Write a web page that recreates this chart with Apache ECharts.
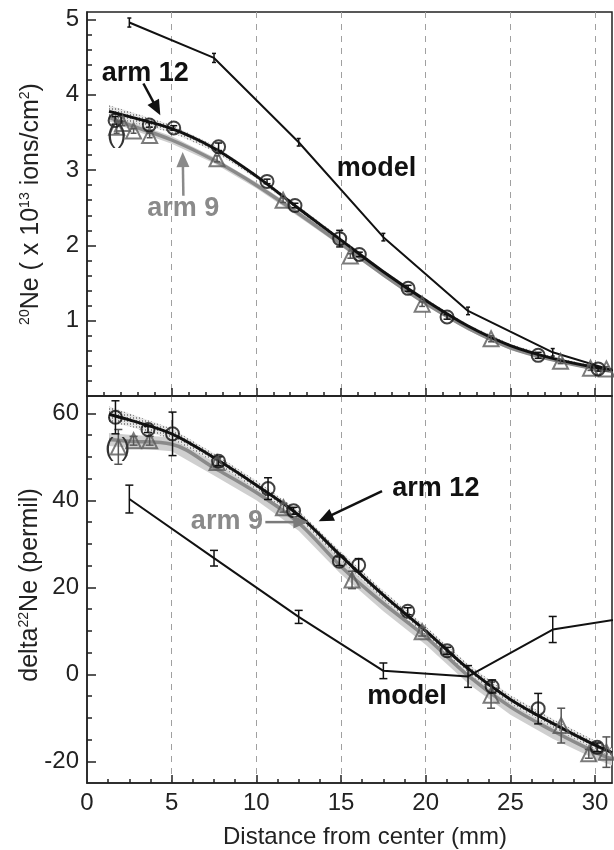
<!DOCTYPE html>
<html><head><meta charset="utf-8">
<script src="https://cdn.jsdelivr.net/npm/echarts@6/dist/echarts.min.js"></script>
<style>html,body{margin:0;padding:0;background:#fff}#c{width:614px;height:850px}</style>
</head><body><div id="c"></div>
<script>
// ---------- axis ticks ----------
const xLabelValues = [0, 5, 10, 15, 20, 25, 30];
const xMajorTicks = [5, 10, 15, 20, 25, 30];
const xMinorTopTicks = [1,2,3,4,6,7,8,9,11,12,13,14,16,17,18,19,21,22,23,24,26,27,28,29];
const xMinorBottomTicks = [1.25,2.5,3.75,6.25,7.5,8.75,11.25,12.5,13.75,16.25,17.5,18.75,21.25,22.5,23.75,26.25,27.5,28.75];
const ne20LabelValues = [1, 2, 3, 4, 5];
const ne20MinorTicks = [0.2,0.4,0.6,0.8,1.2,1.4,1.6,1.8,2.2,2.4,2.6,2.8,3.2,3.4,3.6,3.8,4.2,4.4,4.6,4.8];
const deltaLabelValues = [-20, 0, 20, 40, 60];
const deltaMinorTicks = [-15,-10,-5,5,10,15,25,30,35,45,50,55];

// ---------- fitted curves (shared x) ----------
const fitX = [1.3, 2.5, 5, 7.5, 10, 12.5, 15, 17.5, 20, 22.5, 25, 27.5, 30, 31];
const ne20Fit12 = [3.78, 3.71, 3.55, 3.29, 2.92, 2.49, 2.07, 1.65, 1.27, 0.93, 0.67, 0.50, 0.38, 0.35];
const ne20Fit9  = [3.70, 3.60, 3.40, 3.13, 2.80, 2.42, 2.02, 1.61, 1.23, 0.90, 0.64, 0.48, 0.36, 0.33];
const ne20Band12 = [0.08, 0.07, 0.05, 0.04, 0.03, 0.03, 0.03, 0.02, 0.02, 0.02, 0.02, 0.02, 0.02, 0.02];
const ne20Band9  = [0.05, 0.05, 0.05, 0.04, 0.04, 0.04, 0.03, 0.03, 0.03, 0.03, 0.03, 0.02, 0.02, 0.02];
const deltaFit12 = [59.8, 58.5, 55.3, 49.8, 43.5, 36.6, 27.2, 18.2, 10.0, 1.3, -5.8, -11.3, -16.3, -18.0];
const deltaFit9  = [54.0, 53.6, 52.9, 47.5, 41.8, 34.8, 24.8, 16.3, 8.6, -0.3, -7.5, -13.0, -17.9, -19.5];
const deltaBand12 = [1.8, 1.5, 1.2, 1.0, 1.0, 1.0, 1.0, 1.0, 1.0, 1.0, 1.0, 1.0, 1.0, 1.0];
const deltaBand9  = [1.5, 1.5, 1.6, 1.8, 1.8, 1.8, 1.8, 1.8, 1.8, 1.8, 1.8, 1.8, 1.6, 1.5];

// ---------- model ----------
const modelX = [2.5, 7.5, 12.5, 17.5, 22.5, 27.5, 32.5];
const ne20Model = [4.96, 4.49, 3.37, 2.11, 1.13, 0.58, 0.24];
const ne20ModelErr = [0.06, 0.06, 0.05, 0.05, 0.05, 0.05, 0];
const deltaModel = [40.3, 26.7, 13.2, 0.8, -0.5, 10.3, 13.4];
const deltaModelErr = [3.2, 1.8, 1.5, 1.8, 2.5, 3.0, 0];

// ---------- arm 12 (circles) ----------
const ne20Arm12X = [1.66, 3.68, 5.12, 7.77, 10.63, 12.28, 14.92, 16.08, 18.96, 21.26, 26.64, 30.18];
const ne20Arm12Y = [3.66, 3.60, 3.56, 3.31, 2.85, 2.53, 2.09, 1.88, 1.43, 1.05, 0.54, 0.36];
const ne20Arm12Err = [0.05, 0.03, 0.03, 0.05, 0.03, 0.03, 0.11, 0.03, 0.04, 0.03, 0.04, 0.03];
const deltaArm12X = [1.68, 3.6, 5.05, 7.77, 10.69, 12.2, 14.9, 16.04, 18.94, 21.26, 23.92, 26.64, 30.12];
const deltaArm12Y = [59.1, 56.3, 55.3, 49.0, 42.7, 37.6, 26.0, 25.1, 14.5, 5.4, -2.8, -7.9, -16.8];
const deltaArm12Err = [3.8, 0.7, 5.0, 1.0, 2.5, 0.8, 1.0, 1.5, 0.8, 0.8, 1.5, 3.5, 1.0];

// ---------- arm 9 (triangles) ----------
const ne20Arm9X = [1.75, 2.1, 2.75, 3.7, 7.68, 11.58, 15.55, 19.79, 23.86, 27.96, 29.73, 30.67];
const ne20Arm9Y = [3.57, 3.62, 3.52, 3.46, 3.15, 2.60, 1.86, 1.22, 0.76, 0.46, 0.37, 0.36];
const ne20Arm9Err = [0.08, 0.03, 0.03, 0.03, 0.04, 0.03, 0.03, 0.03, 0.04, 0.03, 0.03, 0.03];
const deltaArm9X = [1.85, 2.75, 3.7, 7.68, 11.6, 15.65, 19.79, 23.86, 28.0, 29.63, 30.67];
const deltaArm9Y = [52.3, 53.7, 53.7, 48.7, 38.3, 21.7, 9.8, -4.8, -11.8, -18.3, -17.9];
const deltaArm9Err = [4.0, 1.0, 1.0, 1.0, 1.0, 2.0, 1.0, 3.0, 4.0, 1.0, 3.5];

const FONT = '"Liberation Sans", Arial, Helvetica, sans-serif';
const chart = echarts.init(document.getElementById('c'));

function pts(xs, ys) { return xs.map((x, i) => [x, ys[i]]); }
function errPts(xs, ys, es) { return xs.map((x, i) => [x, ys[i], es[i]]); }

// hatch pattern for arm 12 uncertainty band
const pc = document.createElement('canvas');
pc.width = 3; pc.height = 3;
const g2 = pc.getContext('2d');
g2.fillStyle = '#e6e6e6'; g2.fillRect(0, 0, 3, 3);
g2.fillStyle = '#8a8a8a'; g2.fillRect(1, 0, 1, 2);

function bandSeries(gi, xs, center, half, fill, z) {
  return {
    type: 'custom', xAxisIndex: gi * 2, yAxisIndex: gi * 2, z: z, silent: true, clip: true,
    data: xs.map((x, i) => [x, center[i]]),
    renderItem: function (params, api) {
      if (params.dataIndex !== 0) return null;
      const up = [], lo = [];
      for (let i = 0; i < xs.length; i++) {
        up.push(api.coord([xs[i], center[i] + half[i]]));
        lo.push(api.coord([xs[i], center[i] - half[i]]));
      }
      return { type: 'polygon', shape: { points: up.concat(lo.reverse()), smooth: 0 }, style: { fill: fill } };
    }
  };
}

function errSeries(gi, data, color, cap, width, z) {
  return {
    type: 'custom', xAxisIndex: gi * 2, yAxisIndex: gi * 2, z: z, silent: true, clip: true,
    data: data,
    renderItem: function (params, api) {
      const x = api.value(0), y = api.value(1), e = api.value(2);
      if (!e) return null;
      const hi = api.coord([x, y + e]), lo = api.coord([x, y - e]);
      return {
        type: 'group', children: [
          { type: 'line', shape: { x1: hi[0], y1: hi[1], x2: lo[0], y2: lo[1] }, style: { stroke: color, lineWidth: width } },
          { type: 'line', shape: { x1: hi[0] - cap, y1: hi[1], x2: hi[0] + cap, y2: hi[1] }, style: { stroke: color, lineWidth: width } },
          { type: 'line', shape: { x1: lo[0] - cap, y1: lo[1], x2: lo[0] + cap, y2: lo[1] }, style: { stroke: color, lineWidth: width } }
        ]
      };
    }
  };
}

function lineSeries(gi, data, color, width, smooth, z) {
  return {
    type: 'line', xAxisIndex: gi * 2, yAxisIndex: gi * 2, data: data, z: z, silent: true,
    symbol: 'none', smooth: smooth, clip: true,
    lineStyle: { color: color, width: width }
  };
}

function scatterSeries(gi, data, symbol, size, color, z) {
  return {
    type: 'scatter', xAxisIndex: gi * 2, yAxisIndex: gi * 2, data: data, z: z, silent: true,
    symbol: symbol, symbolSize: size,
    itemStyle: { color: 'rgba(255,255,255,0)', borderColor: color, borderWidth: 2 }
  };
}

const axisCol = '#222';
function xMain(gi, labels) {
  return {
    type: 'value', gridIndex: gi, min: 0, max: 31, interval: 5, position: 'bottom',
    axisLine: { show: true, onZero: false, lineStyle: { color: axisCol, width: 1.5 } },
    axisTick: { show: true, inside: true, length: 8, customValues: xMajorTicks, lineStyle: { color: axisCol, width: 1.5 } },
    axisLabel: { show: labels, customValues: xLabelValues, fontSize: 24, color: axisCol, fontFamily: FONT, margin: 8 },
    splitLine: { show: true, lineStyle: { color: '#a0a0a0', type: [6, 6], width: 1 } }
  };
}
function xMinor(gi, ticks) {
  return {
    type: 'value', gridIndex: gi, min: 0, max: 31, position: 'bottom',
    axisLine: { show: false, onZero: false },
    axisTick: { show: true, inside: true, length: 4, customValues: ticks, lineStyle: { color: axisCol, width: 1.5 } },
    axisLabel: { show: false }, splitLine: { show: false }
  };
}
function yMain(gi, min, max, labels) {
  return {
    type: 'value', gridIndex: gi, min: min, max: max, position: 'left',
    axisLine: { show: true, onZero: false, lineStyle: { color: axisCol, width: 1.5 } },
    axisTick: { show: true, inside: true, length: 9, customValues: labels, lineStyle: { color: axisCol, width: 1.5 } },
    axisLabel: { show: true, customValues: labels, fontSize: 24, color: axisCol, fontFamily: FONT, margin: 8 },
    splitLine: { show: false }
  };
}
function yMinor(gi, min, max, ticks) {
  return {
    type: 'value', gridIndex: gi, min: min, max: max, position: 'left',
    axisLine: { show: false, onZero: false },
    axisTick: { show: true, inside: true, length: 5, customValues: ticks, lineStyle: { color: axisCol, width: 1.5 } },
    axisLabel: { show: false }, splitLine: { show: false }
  };
}

const option = {
  backgroundColor: '#fff',
  animation: false,
  grid: [
    { left: 87, right: 2, top: 12, height: 384, show: true, borderColor: axisCol, borderWidth: 1.5, backgroundColor: 'transparent' },
    { left: 87, right: 2, top: 396, height: 387, show: true, borderColor: axisCol, borderWidth: 1.5, backgroundColor: 'transparent' }
  ],
  xAxis: [xMain(0, false), xMinor(0, xMinorTopTicks), xMain(1, true), xMinor(1, xMinorBottomTicks)],
  yAxis: [yMain(0, 0, 5.1, ne20LabelValues), yMinor(0, 0, 5.1, ne20MinorTicks),
          yMain(1, -25, 64, deltaLabelValues), yMinor(1, -25, 64, deltaMinorTicks)],
  series: [
    // top panel
    bandSeries(0, fitX, ne20Fit9, ne20Band9, '#cfcfcf', 1),
    bandSeries(0, fitX, ne20Fit12, ne20Band12, { image: pc, repeat: 'repeat' }, 2),
    lineSeries(0, pts(fitX, ne20Fit9), '#8a8a8a', 3.5, 0.35, 3),
    lineSeries(0, pts(fitX, ne20Fit12), '#111', 3, 0.35, 4),
    lineSeries(0, pts(modelX, ne20Model), '#111', 2, false, 4),
    errSeries(0, errPts(modelX, ne20Model, ne20ModelErr), '#111', 2, 1.5, 5),
    errSeries(0, errPts(ne20Arm9X, ne20Arm9Y, ne20Arm9Err), '#555', 3, 1.5, 5),
    errSeries(0, errPts(ne20Arm12X, ne20Arm12Y, ne20Arm12Err), '#111', 3.5, 1.5, 5),
    scatterSeries(0, pts(ne20Arm9X, ne20Arm9Y), 'triangle', 15, '#5a5a5a', 6),
    scatterSeries(0, pts(ne20Arm12X, ne20Arm12Y), 'circle', 13, '#111', 7),
    // bottom panel
    bandSeries(1, fitX, deltaFit9, deltaBand9, '#cfcfcf', 1),
    bandSeries(1, fitX, deltaFit12, deltaBand12, { image: pc, repeat: 'repeat' }, 2),
    lineSeries(1, pts(fitX, deltaFit9), '#8a8a8a', 3.5, 0.35, 3),
    lineSeries(1, pts(fitX, deltaFit12), '#111', 3, 0.35, 4),
    lineSeries(1, pts(modelX, deltaModel), '#111', 2, false, 4),
    errSeries(1, errPts(modelX, deltaModel, deltaModelErr), '#111', 4, 1.5, 5),
    errSeries(1, errPts(deltaArm9X, deltaArm9Y, deltaArm9Err), '#555', 4, 1.5, 5),
    errSeries(1, errPts(deltaArm12X, deltaArm12Y, deltaArm12Err), '#111', 4, 1.5, 5),
    scatterSeries(1, pts(deltaArm9X, deltaArm9Y), 'triangle', 15, '#5a5a5a', 6),
    scatterSeries(1, pts(deltaArm12X, deltaArm12Y), 'circle', 13, '#111', 7)
  ]
};
chart.setOption(option);

// ---------- annotations placed in data coordinates ----------
const annotations = [
  { gi: 0, x: 3.44, y: 4.28, text: 'arm 12', color: '#111' },
  { gi: 0, x: 17.1, y: 3.02, text: 'model', color: '#111' },
  { gi: 0, x: 5.69, y: 2.49, text: 'arm 9', color: '#8a8a8a' },
  { gi: 1, x: 20.6, y: 42.8, text: 'arm 12', color: '#111' },
  { gi: 1, x: 8.26, y: 35.2, text: 'arm 9', color: '#8a8a8a' },
  { gi: 1, x: 18.9, y: -5.1, text: 'model', color: '#111' }
];
const arrows = [
  { gi: 0, from: [3.33, 4.15], to: [4.33, 3.73], color: '#111' },
  { gi: 0, from: [5.69, 2.66], to: [5.65, 3.24], color: '#8a8a8a' },
  { gi: 1, from: [17.42, 42.1], to: [13.68, 35.2], color: '#111' },
  { gi: 1, from: [10.53, 35.0], to: [13.07, 35.0], color: '#7a7a7a' }
];
const parens = [
  { gi: 0, x: 1.44, y: 3.45, text: '(' }, { gi: 0, x: 2.07, y: 3.45, text: ')' },
  { gi: 1, x: 1.32, y: 51.8, text: '(' }, { gi: 1, x: 2.29, y: 51.8, text: ')' }
];

const gfx = [];
annotations.forEach(a => {
  const p = chart.convertToPixel({ gridIndex: a.gi }, [a.x, a.y]);
  gfx.push({ type: 'text', x: p[0], y: p[1], z: 20, silent: true,
    style: { text: a.text, fill: a.color, font: 'bold 27px ' + FONT, align: 'center', verticalAlign: 'middle' } });
});
arrows.forEach(a => {
  const t = chart.convertToPixel({ gridIndex: a.gi }, a.from);
  const h = chart.convertToPixel({ gridIndex: a.gi }, a.to);
  const dx = h[0] - t[0], dy = h[1] - t[1], L = Math.hypot(dx, dy), ux = dx / L, uy = dy / L;
  const hl = 15, hw = 6.5;
  const bx = h[0] - ux * hl, by = h[1] - uy * hl;
  gfx.push({ type: 'line', z: 20, silent: true, shape: { x1: t[0], y1: t[1], x2: bx + ux * 2, y2: by + uy * 2 },
    style: { stroke: a.color, lineWidth: 2.5 } });
  gfx.push({ type: 'polygon', z: 20, silent: true,
    shape: { points: [[h[0], h[1]], [bx - uy * hw, by + ux * hw], [bx + uy * hw, by - ux * hw]] },
    style: { fill: a.color } });
});
parens.forEach(a => {
  const p = chart.convertToPixel({ gridIndex: a.gi }, [a.x, a.y]);
  gfx.push({ type: 'text', x: p[0], y: p[1], z: 20, silent: true,
    style: { text: a.text, fill: '#333', font: '26px ' + FONT, align: 'center', verticalAlign: 'middle' } });
});
// axis titles
gfx.push({ type: 'text', x: 31, y: 204, rotation: Math.PI / 2, silent: true,
  style: { text: '{s|20}Ne ( x 10{s|13} ions/cm{s|2})', fill: '#222', font: '25px ' + FONT,
    align: 'center', verticalAlign: 'middle',
    rich: { s: { fontSize: 14, fontFamily: FONT, fill: '#222', verticalAlign: 'top' } } } });
gfx.push({ type: 'text', x: 30, y: 585, rotation: Math.PI / 2, silent: true,
  style: { text: 'delta{s|22}Ne (permil)', fill: '#222', font: '25px ' + FONT,
    align: 'center', verticalAlign: 'middle',
    rich: { s: { fontSize: 14, fontFamily: FONT, fill: '#222', verticalAlign: 'top' } } } });
gfx.push({ type: 'text', x: 365, y: 837, silent: true,
  style: { text: 'Distance from center (mm)', fill: '#222', font: '24px ' + FONT, align: 'center', verticalAlign: 'middle' } });

chart.setOption({ graphic: gfx });
</script>
</body></html>
